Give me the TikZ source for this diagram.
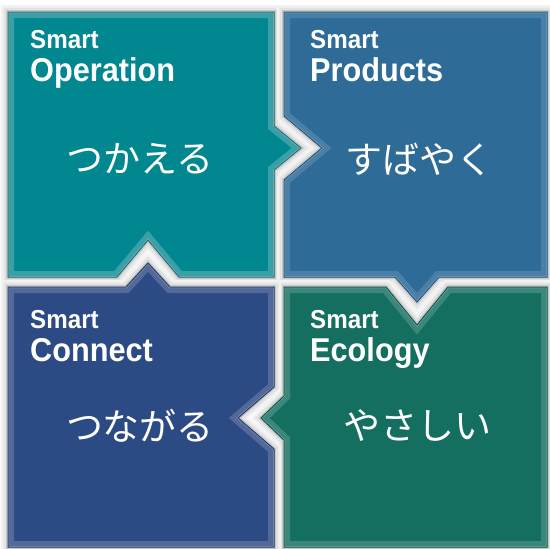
\documentclass[tikz,border=0pt]{standalone}
\usepackage{fontspec}
\setmainfont{Liberation Sans}
\newfontfamily\condsans[FakeStretch=0.93]{Liberation Sans}
\newfontfamily\jpfont{Noto Sans CJK JP}
\definecolor{tlc}{HTML}{00878F}\definecolor{tlb}{HTML}{3A9FA6}\definecolor{tle}{HTML}{1F6E73}
\definecolor{trc}{HTML}{2E6B97}\definecolor{trb}{HTML}{4A80A8}\definecolor{tre}{HTML}{1F5478}
\definecolor{blc}{HTML}{2C4A83}\definecolor{blb}{HTML}{52699A}\definecolor{ble}{HTML}{223A68}
\definecolor{brc}{HTML}{156F60}\definecolor{brb}{HTML}{3A887B}\definecolor{bre}{HTML}{0F5449}
\newcommand\pTL{(8,12) -- (274,12) -- (274,126) -- (301,148) -- (274,170) -- (274,277) -- (179,277) -- (148,240) -- (117,277) -- (8,277) -- cycle}
\newcommand\pTR{(284,12) -- (547,12) -- (547,277) -- (439,277) -- (417,302) -- (395,277) -- (284,277) -- (284,180) -- (322,148) -- (284,116) -- cycle}
\newcommand\pBR{(284,287) -- (386,287) -- (417,325) -- (448,287) -- (547,287) -- (547,547) -- (284,547) -- (284,440) -- (261,418) -- (284,396) -- cycle}
\newcommand\pBL{(8,287) -- (126,287) -- (148,263) -- (170,287) -- (274,287) -- (274,387) -- (238,418) -- (274,449) -- (274,547) -- (8,547) -- cycle}
\newcommand\qshadow[1]{%
  \draw[line width=14pt,black!5,line join=miter] #1;
  \draw[line width=9pt,black!11,line join=miter] #1;
  \draw[line width=4pt,black!22,line join=miter] #1;}
\newcommand\qbox[4]{%
  \fill[#2] #1;
  \begin{scope}
    \clip #1;
    \draw[line width=12pt,#3,line join=miter] #1;
    \draw[line width=2pt,#3!60!white,line join=miter] #1;
  \end{scope}
  \draw[#4,line width=1pt,line join=miter] #1;}
\tikzset{
  smartlbl/.style={anchor=base west,inner sep=0pt,text=white,font=\condsans\fontsize{26}{26}\selectfont\bfseries},
  namelbl/.style={anchor=base west,inner sep=0pt,text=white,font=\condsans\fontsize{33}{33}\selectfont\bfseries},
  jplbl/.style={anchor=base,inner sep=0pt,text=white,font=\jpfont\fontsize{37}{37}\selectfont}
}
\begin{document}
\begin{tikzpicture}[x=1pt,y=-1pt]
\useasboundingbox (0,0) rectangle (550,549);
\fill[white] (0,0) rectangle (550,549);
\qshadow{\pTL}\qshadow{\pTR}\qshadow{\pBR}\qshadow{\pBL}
\qbox{\pTL}{tlc}{tlb}{tle}
\qbox{\pTR}{trc}{trb}{tre}
\qbox{\pBR}{brc}{brb}{bre}
\qbox{\pBL}{blc}{blb}{ble}
% texts
\node[smartlbl] (s1) at (30,48) {Smart};
\node[namelbl] (n1) at (30,81) {Operation};
\node[jplbl] (j1) at (140,172) {つかえる};
\node[smartlbl] (s2) at (310,48) {Smart};
\node[namelbl] (n2) at (310,81) {Products};
\node[jplbl] (j2) at (419,173) {すばやく};
\node[smartlbl] (s3) at (30,328) {Smart};
\node[namelbl] (n3) at (30,361) {Connect};
\node[jplbl] (j3) at (140,440) {つながる};
\node[smartlbl] (s4) at (310,328) {Smart};
\node[namelbl] (n4) at (310,361) {Ecology};
\node[jplbl] (j4) at (417,439) {やさしい};
\end{tikzpicture}
\end{document}
